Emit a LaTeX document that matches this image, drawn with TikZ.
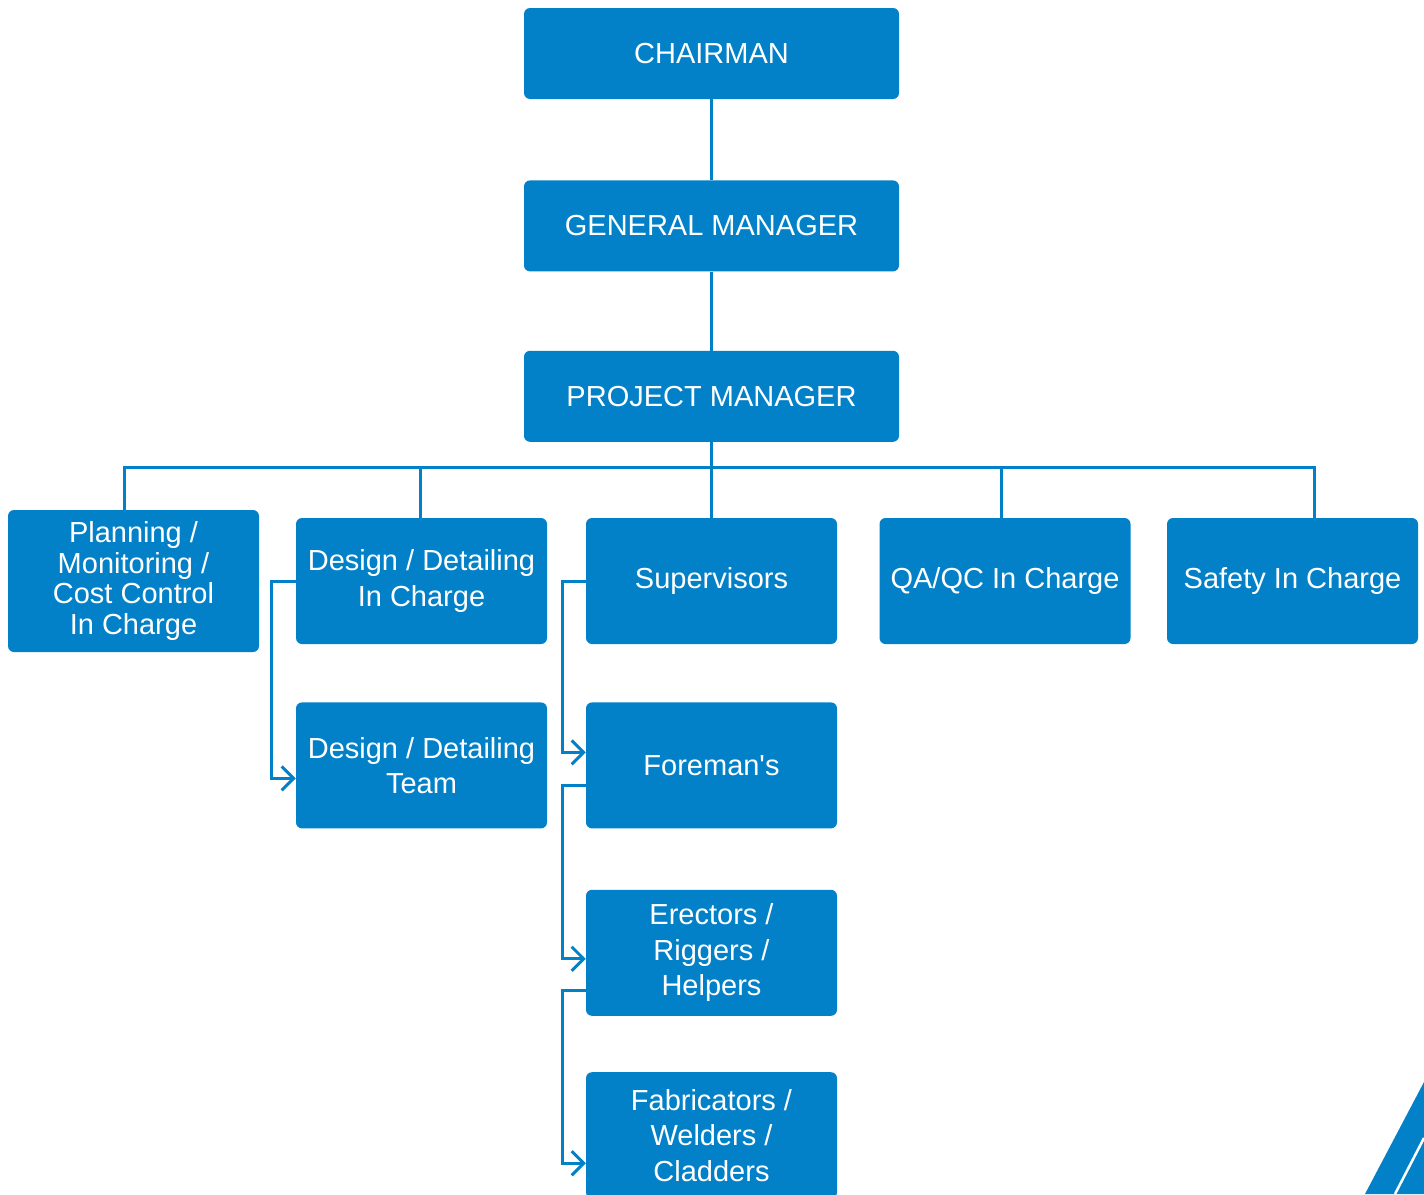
\documentclass[tikz,border=0pt]{standalone}
\usepackage{fontspec}
\setmainfont{Liberation Sans}
\usetikzlibrary{positioning, arrows.meta}
\definecolor{orgblue}{RGB}{3,129,200}

\begin{document}
\begin{tikzpicture}[x=1pt, y=-1pt, node distance=80pt,
        every node/.style={rectangle, rounded corners=6pt, fill=orgblue, text=white, align=center, font=\fontsize{29}{35.5}\selectfont},
        top/.style={minimum width=375pt, minimum height=91pt},
        unit/.style={minimum width=251pt, minimum height=126pt, inner sep=2pt},
        link/.style={draw=orgblue, line width=3pt},
        feed/.style={link, -{Straight Barb[length=12pt, width=24pt]}}]
        \useasboundingbox (0,0) rectangle (1424,1194);

        \node[top] (chair) at (711.5,53.5) {CHAIRMAN};
        \node[top, below=81pt of chair] (gm) {GENERAL MANAGER};
        \node[top, below=79pt of gm] (pm) {PROJECT MANAGER};

        \node[unit, minimum height=142pt, font=\fontsize{29}{30.5}\selectfont] (plan) at (133.5,581) {Planning /\\Monitoring /\\Cost Control\\In Charge};
        \node[unit] (dic) at (421.5,581) {Design / Detailing\\In Charge};
        \node[unit] (sup) at (711.5,581) {Supervisors};
        \node[unit] (qa) at (1005,581) {QA/QC In Charge};
        \node[unit] (safety) at (1292.5,581) {Safety In Charge};
        \node[unit, below=58pt of dic] (team) {Design / Detailing\\Team};
        \node[unit, below=58pt of sup] (fore) {Foreman\textquotesingle s};
        \node[unit, below=61pt of fore] (erect) {Erectors /\\Riggers /\\Helpers};
        \node[unit, below=56pt of erect] (fab) {Fabricators /\\Welders /\\Cladders};

        \draw[link] (chair) -- (gm);
        \draw[link] (gm) -- (pm);

        % bus under the project manager
        \coordinate (bus) at (711.5,467);
        \draw[link] (pm) -- (bus);
        \draw[link] ([xshift=-9.5pt]plan.north) |- (bus) -| ([xshift=21.5pt]safety.north);
        \foreach \n/\dx in {dic/-1.5, sup/0, qa/-4} {
            \draw[link] ([xshift=\dx pt]\n.north) -- ([xshift=\dx pt]\n.north |- bus);
        }

        \draw[feed] (dic.west) -- ++(-24,0) |- ([yshift=-13pt]team.west);
        \draw[feed] (sup.west) -- ++(-23,0) |- ([yshift=13pt]fore.west);
        \draw[feed] ([yshift=-20pt]fore.west) -- ++(-23,0) |- ([yshift=-6pt]erect.west);
        \draw[feed] ([yshift=-38pt]erect.west) -- ++(-23,0) |- ([yshift=-28pt]fab.west);

        % corner mark
        \fill[orgblue] (1365,1194) -- (1424,1082) -- (1424,1194) -- cycle;
        \draw[white, line width=2.5pt] (1395,1194) -- (1424,1138);
    \end{tikzpicture}
\end{document}
